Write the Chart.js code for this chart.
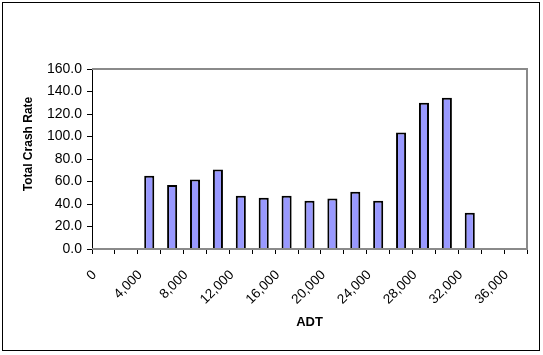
<!DOCTYPE html>
<html>
<head>
<meta charset="utf-8">
<script src="https://cdn.jsdelivr.net/npm/chart.js@4"></script>
<style>
  html, body { margin: 0; padding: 0; background: #fff; }
  #wrap { width: 543px; height: 355px; position: relative; }
</style>
</head>
<body>
<div id="wrap"><canvas id="chart"></canvas></div>
<script>
// ADT categories (every 2,000) and crash rates
const adt = [0, 2000, 4000, 6000, 8000, 10000, 12000, 14000, 16000, 18000,
  20000, 22000, 24000, 26000, 28000, 30000, 32000, 34000, 36000];
const crashRate = [null, null, 65.2, 57.0, 61.8, 70.6, 47.4, 45.6, 47.4, 43.0,
  45.0, 51.0, 43.0, 103.5, 130.0, 134.5, 32.3, null, null];
const yTicks = [0, 20, 40, 60, 80, 100, 120, 140, 160];
const yTitle = 'Total Crash Rate';

// outer frame, y title and the grey plot area border
const frame = {
  id: 'frame',
  beforeDraw(chart) {
    const c = chart.ctx;
    c.save();
    c.fillStyle = '#fff';
    c.fillRect(0, 0, chart.width, chart.height);
    c.strokeStyle = '#000';
    c.lineWidth = 1;
    c.strokeRect(2.5, 2.5, 537, 348);
    // y axis title sits a bit above the plot's middle, as in the original
    c.translate(29, 144);
    c.rotate(-Math.PI / 2);
    c.fillStyle = '#000';
    c.font = 'bold 12px "Liberation Sans"';
    c.textAlign = 'center';
    c.textBaseline = 'middle';
    c.fillText(yTitle, 0, 0);
    c.restore();
  },
  afterDatasetsDraw(chart) {
    const a = chart.chartArea;
    const c = chart.ctx;
    c.save();
    c.strokeStyle = '#8a8a8a';
    c.lineWidth = 2;
    c.beginPath();
    c.moveTo(a.left, a.top);
    c.lineTo(a.right, a.top);
    c.lineTo(a.right, a.bottom);
    c.lineTo(a.left, a.bottom);
    c.stroke();
    c.restore();
  }
};

new Chart(document.getElementById('chart'), {
  type: 'bar',
  data: {
    labels: adt,
    datasets: [{
      data: crashRate,
      backgroundColor: '#9999ff',
      borderColor: '#000',
      borderWidth: 2,
      barPercentage: 0.44,
      categoryPercentage: 1
    }]
  },
  options: {
    responsive: true,
    maintainAspectRatio: false,
    animation: false,
    layout: { padding: { left: 0, top: 69, right: 16, bottom: 25 } },
    plugins: { legend: { display: false }, tooltip: { enabled: false } },
    scales: {
      x: {
        afterFit(s) { s.height = 81; },
        border: { display: false },
        grid: { drawOnChartArea: false, drawTicks: true, tickLength: 5, color: '#000', offset: true },
        ticks: {
          autoSkip: false,
          minRotation: 45,
          maxRotation: 45,
          padding: 13,
          labelOffset: -9,
          color: '#000',
          font: { family: 'Liberation Sans', size: 13.5 },
          callback(v, i) { return i % 2 === 0 ? adt[i].toLocaleString('en-US') : ''; }
        },
        title: {
          display: true,
          text: 'ADT',
          color: '#000',
          padding: 0,
          font: { family: 'Liberation Sans', size: 13, weight: 'bold' }
        }
      },
      y: {
        min: 0,
        max: 160,
        afterFit(s) { s.width = 92; },
        afterBuildTicks(s) { s.ticks = yTicks.map(v => ({ value: v })); },
        border: { display: true, color: '#000', width: 1 },
        grid: { drawOnChartArea: false, drawTicks: true, tickLength: 5, color: '#000' },
        ticks: {
          padding: 5,
          color: '#000',
          font: { family: 'Liberation Sans', size: 14 },
          callback(v) { return v.toFixed(1); }
        }
      }
    }
  },
  plugins: [frame]
});
</script>
</body>
</html>
